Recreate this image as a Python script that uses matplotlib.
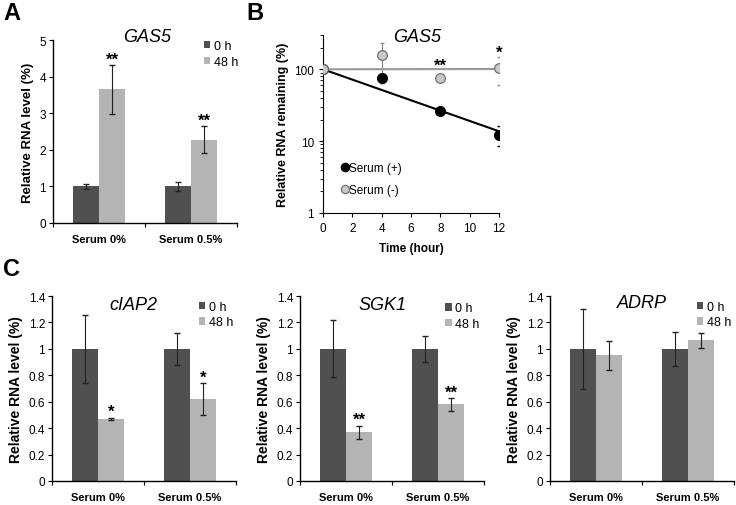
import numpy as np
import matplotlib
matplotlib.use("Agg")
import matplotlib.pyplot as plt
from matplotlib.ticker import FormatStrFormatter, NullFormatter, LogLocator

plt.rcParams['font.family'] = ['Liberation Sans', 'DejaVu Sans']

# ---- data ----
groups = ["Serum 0%", "Serum 0.5%"]
series_names = ["0 h", "48 h"]

gas5_0h = [1.0, 1.0]
gas5_0h_err = [0.07, 0.13]
gas5_48h = [3.65, 2.28]
gas5_48h_err = [0.66, 0.37]
gas5_stars = ["**", "**"]

ciap2_0h = [1.0, 1.0]
ciap2_0h_err = [0.255, 0.12]
ciap2_48h = [0.47, 0.62]
ciap2_48h_err = [0.01, 0.12]
ciap2_stars = ["*", "*"]

sgk1_0h = [1.0, 1.0]
sgk1_0h_err = [0.215, 0.10]
sgk1_48h = [0.37, 0.58]
sgk1_48h_err = [0.05, 0.05]
sgk1_stars = ["**", "**"]

adrp_0h = [1.0, 1.0]
adrp_0h_err = [0.305, 0.13]
adrp_48h = [0.95, 1.065]
adrp_48h_err = [0.11, 0.055]
adrp_stars = ["", ""]

time_h = [0, 4, 8, 12]
serum_plus = [100, 75, 26, 12.3]
serum_plus_err = [2, 11, 2, 3.8]
serum_minus = [100, 156, 76, 105]
serum_minus_err = [3, 73, 3, 45]
decay_stars = ["", "", "**", "*"]

DARK = "#505050"
LIGHT = "#b4b4b4"
W, H = 736, 506


def px_axes(left, top, right, bottom):
    return fig.add_axes([left / W, 1 - bottom / H, (right - left) / W, (bottom - top) / H])


def bar_panel(ax, v0, e0, v1, e1, stars, ymax, ystep, title, title_x, title_y,
              leg_x, leg_y, ylab_size):
    x = np.arange(len(groups))
    w = 0.283
    ax.bar(x - w / 2, v0, w, color=DARK, label=series_names[0])
    ax.bar(x + w / 2, v1, w, color=LIGHT, label=series_names[1])
    ax.errorbar(x - w / 2, v0, yerr=e0, fmt='none', ecolor='#222222', elinewidth=0.8, capsize=2)
    ax.errorbar(x + w / 2, v1, yerr=e1, fmt='none', ecolor='#222222', elinewidth=0.8, capsize=2)
    for xi, vi, ei, s in zip(x, v1, e1, stars):
        if s:
            ax.annotate(s, (xi + w / 2, vi + ei), xytext=(0, 1), textcoords='offset points',
                        ha='center', va='baseline', fontsize=12, fontweight='bold')
    ax.set_xlim(-0.5, 1.5)
    ax.set_ylim(0, ymax)
    ax.set_yticks(np.arange(0, ymax + ystep / 2, ystep))
    ax.yaxis.set_major_formatter(FormatStrFormatter('%g'))
    ax.set_xticks([-0.5, 0.5, 1.5])
    ax.set_xticklabels([])
    ax.set_xticks(x, minor=True)
    ax.set_xticklabels(groups, minor=True, fontweight='bold', fontsize=8)
    ax.tick_params(axis='x', which='minor', length=0, pad=8)
    ax.tick_params(axis='x', which='major', length=3, width=0.8, direction='out')
    ax.tick_params(axis='y', length=3, width=0.8, direction='out', labelsize=8.5, pad=2)
    for s in ['top', 'right']:
        ax.spines[s].set_visible(False)
    for s in ['left', 'bottom']:
        ax.spines[s].set_linewidth(1.0)
    ax.set_ylabel("Relative RNA level (%)", fontweight='bold', fontsize=ylab_size, labelpad=4)
    ax.text(title_x, title_y, title, transform=ax.transAxes, ha='center', va='center',
            fontsize=13, fontstyle='italic')
    ax.legend(loc='upper left', bbox_to_anchor=(leg_x, leg_y), frameon=False, fontsize=9,
              handlelength=0.5, handleheight=0.5, handletextpad=0.3, labelspacing=0.3,
              borderpad=0, borderaxespad=0)


fig = plt.figure(figsize=(W / 100, H / 100), dpi=100)

# A
axA = px_axes(53, 41, 237, 224)
bar_panel(axA, gas5_0h, gas5_0h_err, gas5_48h, gas5_48h_err, gas5_stars, 5, 1,
          "GAS5", 0.51, 1.02, 0.82, 1.0, 9.5)

# B
axB = px_axes(323, 36, 499, 214)
axB.set_yscale('log')
axB.errorbar(time_h, serum_plus, yerr=serum_plus_err, fmt='none', ecolor='black',
             elinewidth=0.8, capsize=1.5, zorder=2)
axB.errorbar(time_h, serum_minus, yerr=serum_minus_err, fmt='none', ecolor='#888888',
             elinewidth=0.8, capsize=1.5, zorder=2)
t = np.array(time_h, dtype=float)
for vals, col in [(serum_plus, 'black'), (serum_minus, '#999999')]:
    lv = np.log10(vals) - 2
    k = np.sum(t * lv) / np.sum(t * t)
    axB.plot([t[0], t[-1]], [100, 100 * 10 ** (k * t[-1])], color=col, lw=1.5, zorder=3)
axB.plot(time_h, serum_plus, 'o', color='black', ms=7, zorder=4, label="Serum (+)")
axB.plot(time_h, serum_minus, 'o', mfc='#c8c8c8', mec='#666666', mew=0.8, ms=7, zorder=5,
         label="Serum (-)")
star_y = {"**": 112, "*": 170}
for ti, s in zip(time_h, decay_stars):
    if s:
        axB.text(ti, star_y[s], s, ha='center', va='center', fontsize=12, fontweight='bold',
                 zorder=6)
axB.set_xlim(0, 12)
axB.set_ylim(1, 300)
axB.set_xticks(range(0, 13, 2))
axB.yaxis.set_major_locator(LogLocator(base=10, numticks=5))
axB.yaxis.set_minor_locator(LogLocator(base=10, subs=np.arange(2, 10), numticks=20))
axB.yaxis.set_minor_formatter(NullFormatter())
axB.yaxis.set_major_formatter(FormatStrFormatter('%g'))
axB.tick_params(axis='both', which='major', length=3, width=0.8, direction='out', labelsize=8.5)
axB.tick_params(axis='y', which='minor', length=2, width=0.6, direction='out')
for s in ['top', 'right']:
    axB.spines[s].set_visible(False)
axB.set_xlabel("Time (hour)", fontweight='bold', fontsize=8.5, labelpad=6)
axB.set_ylabel("Relative RNA remaining (%)", fontweight='bold', fontsize=9, labelpad=4)
axB.text(0.534, 0.99, "GAS5", transform=axB.transAxes, ha='center', va='center',
         fontsize=13, fontstyle='italic')
axB.legend(loc='center left', bbox_to_anchor=(0.07, 0.19), frameon=False, fontsize=8.5,
           handlelength=0.6, handletextpad=0.1, labelspacing=0.85, borderpad=0, numpoints=1,
           markerscale=0.85)

# C
axC1 = px_axes(52, 297, 236, 482)
bar_panel(axC1, ciap2_0h, ciap2_0h_err, ciap2_48h, ciap2_48h_err, ciap2_stars, 1.4, 0.2,
          "cIAP2", 0.44, 0.955, 0.80, 0.975, 10)
axC2 = px_axes(300, 297, 484, 482)
bar_panel(axC2, sgk1_0h, sgk1_0h_err, sgk1_48h, sgk1_48h_err, sgk1_stars, 1.4, 0.2,
          "SGK1", 0.45, 0.955, 0.79, 0.965, 10)
axC3 = px_axes(550, 297, 734, 482)
bar_panel(axC3, adrp_0h, adrp_0h_err, adrp_48h, adrp_48h_err, adrp_stars, 1.4, 0.2,
          "ADRP", 0.50, 0.965, 0.80, 0.975, 10)

# panel letters
fig.text(3 / W, 1 - 14 / H, "A", fontsize=17, fontweight='bold', va='center', ha='left')
fig.text(246 / W, 1 - 14 / H, "B", fontsize=17, fontweight='bold', va='center', ha='left')
fig.text(3 / W, 1 - 270 / H, "C", fontsize=17, fontweight='bold', va='center', ha='left')

fig.savefig("out.png", dpi=100)
